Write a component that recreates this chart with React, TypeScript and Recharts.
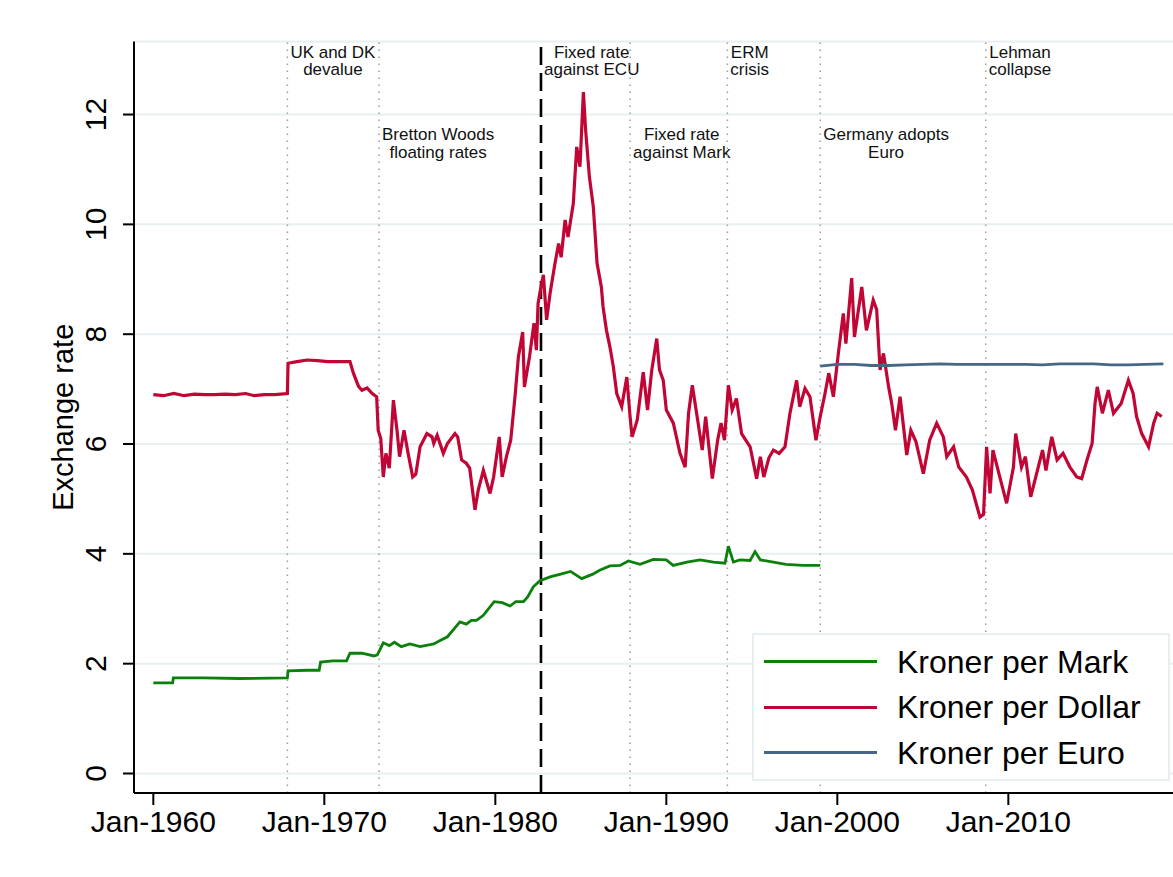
import {
  CartesianGrid,
  Legend,
  Line,
  LineChart,
  ReferenceLine,
  XAxis,
  YAxis,
} from "recharts";

const FONT = "'Liberation Sans', Arial, Helvetica, sans-serif";
const MARK_COLOUR = "#0b800b";
const DOLLAR_COLOUR = "#c10534";
const EURO_COLOUR = "#466684";
const GRID_COLOUR = "#e7eff1";

// [year, kroner]
const markPoints: [number, number][] = [
  [1960.0, 1.65], [1961.13, 1.65], [1961.17, 1.74], [1963.0, 1.74], [1965.0, 1.73],
  [1967.84, 1.74], [1967.88, 1.87], [1969.0, 1.88], [1969.7, 1.88], [1969.78, 2.03],
  [1970.5, 2.05], [1971.3, 2.05], [1971.5, 2.19], [1972.2, 2.19], [1972.9, 2.14],
  [1973.1, 2.16], [1973.45, 2.38], [1973.8, 2.33], [1974.1, 2.39], [1974.5, 2.31],
  [1975.0, 2.36], [1975.6, 2.31], [1976.4, 2.36], [1976.77, 2.42], [1977.2, 2.49],
  [1977.6, 2.64], [1977.93, 2.76], [1978.3, 2.72], [1978.6, 2.79], [1978.9, 2.79],
  [1979.3, 2.88], [1979.93, 3.13], [1980.4, 3.11], [1980.86, 3.05], [1981.2, 3.13],
  [1981.65, 3.13], [1981.9, 3.22], [1982.22, 3.4], [1982.61, 3.51], [1983.2, 3.58],
  [1983.82, 3.63], [1984.4, 3.68], [1985.05, 3.55], [1985.7, 3.63], [1986.1, 3.7],
  [1986.7, 3.78], [1987.3, 3.79], [1987.78, 3.87], [1988.46, 3.81], [1989.24, 3.9],
  [1990.0, 3.89], [1990.4, 3.79], [1991.2, 3.85], [1991.97, 3.89], [1992.75, 3.85],
  [1993.43, 3.83], [1993.63, 4.14], [1993.92, 3.85], [1994.3, 3.89], [1994.9, 3.88],
  [1995.19, 4.04], [1995.5, 3.89], [1996.26, 3.85], [1997.0, 3.81], [1998.0, 3.79],
  [1999.0, 3.79],
];

const dollarPoints: [number, number][] = [
  [1960.0, 6.9], [1960.6, 6.88], [1961.2, 6.92], [1961.8, 6.88], [1962.4, 6.91],
  [1963.0, 6.9], [1963.6, 6.9], [1964.2, 6.91], [1964.8, 6.9], [1965.4, 6.92],
  [1965.9, 6.88], [1966.5, 6.9], [1967.1, 6.9], [1967.84, 6.92], [1967.88, 7.47],
  [1968.4, 7.5], [1969.0, 7.53], [1969.6, 7.52], [1970.2, 7.5], [1970.8, 7.5],
  [1971.5, 7.5], [1971.7, 7.29], [1972.0, 7.05], [1972.2, 6.98], [1972.5, 7.02],
  [1972.8, 6.92], [1973.06, 6.86], [1973.15, 6.25], [1973.3, 6.1], [1973.45, 5.4],
  [1973.6, 5.83], [1973.8, 5.56], [1974.04, 6.8], [1974.25, 6.25], [1974.4, 5.77],
  [1974.66, 6.25], [1974.9, 5.83], [1975.17, 5.4], [1975.35, 5.45], [1975.6, 5.95],
  [1976.0, 6.19], [1976.3, 6.13], [1976.4, 6.01], [1976.6, 6.16], [1976.96, 5.83],
  [1977.2, 6.01], [1977.64, 6.19], [1977.8, 6.13], [1978.03, 5.71], [1978.3, 5.65],
  [1978.5, 5.56], [1978.81, 4.8], [1979.0, 5.16], [1979.3, 5.52], [1979.69, 5.1],
  [1979.9, 5.4], [1980.23, 6.13], [1980.4, 5.4], [1980.65, 5.77], [1980.9, 6.07],
  [1981.15, 6.86], [1981.35, 7.59], [1981.6, 8.04], [1981.7, 7.04], [1982.0, 7.59],
  [1982.26, 8.2], [1982.4, 7.71], [1982.5, 8.56], [1982.6, 8.74], [1982.81, 9.08],
  [1983.0, 8.26], [1983.2, 8.74], [1983.49, 9.29], [1983.7, 9.65], [1983.85, 9.4],
  [1984.08, 10.08], [1984.25, 9.77], [1984.56, 10.38], [1984.76, 11.41], [1984.95, 11.05],
  [1985.15, 12.41], [1985.28, 11.72], [1985.5, 10.87], [1985.73, 10.32], [1985.95, 9.29],
  [1986.2, 8.86], [1986.3, 8.5], [1986.5, 8.07], [1986.7, 7.77], [1986.9, 7.41],
  [1987.1, 6.92], [1987.39, 6.68], [1987.69, 7.22], [1987.88, 6.5], [1988.0, 6.13],
  [1988.3, 6.44], [1988.65, 7.31], [1988.9, 6.62], [1989.15, 7.35], [1989.44, 7.92],
  [1989.6, 7.35], [1989.82, 7.16], [1990.0, 6.62], [1990.41, 6.38], [1990.8, 5.83],
  [1991.1, 5.58], [1991.3, 6.56], [1991.52, 7.07], [1991.8, 6.5], [1992.1, 5.89],
  [1992.3, 6.5], [1992.69, 5.37], [1993.0, 6.07], [1993.2, 6.38], [1993.4, 6.07],
  [1993.63, 7.07], [1993.85, 6.62], [1994.1, 6.83], [1994.4, 6.19], [1994.9, 5.95],
  [1995.28, 5.37], [1995.5, 5.77], [1995.7, 5.4], [1996.0, 5.75], [1996.26, 5.89],
  [1996.6, 5.83], [1996.94, 5.95], [1997.23, 6.56], [1997.62, 7.16], [1997.8, 6.68],
  [1998.11, 7.01], [1998.4, 6.86], [1998.75, 6.07], [1999.0, 6.5], [1999.28, 6.92],
  [1999.5, 7.29], [1999.77, 6.86], [2000.06, 7.65], [2000.35, 8.38], [2000.5, 7.83],
  [2000.84, 9.02], [2001.0, 7.95], [2001.43, 8.86], [2001.7, 8.07], [2002.1, 8.62],
  [2002.3, 8.45], [2002.5, 7.35], [2002.7, 7.65], [2003.0, 7.04], [2003.18, 6.74],
  [2003.4, 6.25], [2003.67, 6.86], [2004.06, 5.8], [2004.3, 6.25], [2004.6, 6.04],
  [2005.03, 5.46], [2005.4, 6.07], [2005.81, 6.38], [2006.2, 6.13], [2006.4, 5.77],
  [2006.8, 5.95], [2007.1, 5.58], [2007.55, 5.4], [2007.9, 5.16], [2008.34, 4.67],
  [2008.55, 4.72], [2008.73, 5.95], [2008.93, 5.1], [2009.1, 5.89], [2009.5, 5.4],
  [2009.9, 4.92], [2010.3, 5.58], [2010.43, 6.19], [2010.77, 5.58], [2011.0, 5.77],
  [2011.31, 5.04], [2011.75, 5.58], [2012.0, 5.89], [2012.2, 5.52], [2012.54, 6.13],
  [2012.85, 5.71], [2013.2, 5.83], [2013.6, 5.58], [2014.0, 5.4], [2014.29, 5.37],
  [2014.6, 5.71], [2014.9, 6.01], [2015.07, 6.74], [2015.2, 7.04], [2015.5, 6.56],
  [2015.85, 6.98], [2016.15, 6.56], [2016.6, 6.74], [2017.02, 7.16], [2017.3, 6.92],
  [2017.5, 6.5], [2017.8, 6.19], [2018.2, 5.95], [2018.5, 6.38], [2018.7, 6.56],
  [2018.97, 6.5],
];

const euroPoints: [number, number][] = [
  [1999.0, 7.42], [2000.0, 7.45], [2001.0, 7.45], [2002.0, 7.43], [2003.0, 7.43],
  [2004.0, 7.44], [2005.0, 7.45], [2006.0, 7.46], [2007.0, 7.45], [2008.0, 7.45],
  [2009.0, 7.45], [2010.0, 7.45], [2011.0, 7.45], [2012.0, 7.44], [2013.0, 7.46],
  [2014.0, 7.46], [2015.0, 7.46], [2016.0, 7.44], [2017.0, 7.44], [2018.0, 7.45],
  [2019.07, 7.46],
];

const seriesNames = ["Kroner per Mark", "Kroner per Dollar", "Kroner per Euro"];
const xTicks = [1960, 1970, 1980, 1990, 2000, 2010];
const yTicks = [0, 2, 4, 6, 8, 10, 12];

const eventYears = [1967.84, 1973.2, 1982.67, 1987.88, 1993.57, 1999.0, 2008.68];
const eventNotes = [
  ["UK and DK", "devalue"],
  ["Bretton Woods", "floating rates"],
  ["Fixed rate", "against ECU"],
  ["Fixed rate", "against Mark"],
  ["ERM", "crisis"],
  ["Germany adopts", "Euro"],
  ["Lehman", "collapse"],
];
const ECU_YEAR = 1982.67;

const toRows = (pts: [number, number][]) => pts.map(([year, v]) => ({ year, v }));

const NOTE_SIZE = 17;
let measureCtx: CanvasRenderingContext2D | null = null;
function textWidth(s: string): number {
  if (!measureCtx) {
    measureCtx = document.createElement("canvas").getContext("2d");
  }
  if (!measureCtx) return s.length * NOTE_SIZE * 0.55;
  measureCtx.font = `${NOTE_SIZE}px ${FONT}`;
  return measureCtx.measureText(s).width;
}

function noteLabel(lines: string[], upper: boolean) {
  return (props: any) => {
    const vb = props.viewBox ?? {};
    const w = Math.max(...lines.map(textWidth));
    const cx = vb.x + 3 + w / 2;
    const base = upper ? 57.5 : 140;
    return (
      <g>
        {lines.map((t, i) => (
          <text
            key={t}
            x={cx}
            y={base + i * 17.5}
            textAnchor="middle"
            fontSize={NOTE_SIZE}
            fill="#111"
            fontFamily={FONT}
          >
            {t}
          </text>
        ))}
      </g>
    );
  };
}

function XTick({ x, y, payload }: any) {
  return (
    <text x={x} y={y + 27} textAnchor="middle" fontSize={30} fill="#000">
      Jan-{payload.value}
    </text>
  );
}

function YTick({ x, y, payload }: any) {
  const bx = x - 16.5;
  return (
    <text
      x={bx}
      y={y}
      textAnchor="middle"
      fontSize={30}
      fill="#000"
      transform={`rotate(-90 ${bx} ${y})`}
    >
      {payload.value}
    </text>
  );
}

function YTitle(props: any) {
  const vb = props.viewBox ?? { y: 0, height: 0 };
  const cy = vb.y + vb.height / 2;
  return (
    <text x={73} y={cy} textAnchor="middle" fontSize={29} fill="#000" transform={`rotate(-90 73 ${cy})`}>
      Exchange rate
    </text>
  );
}

function LegendBox({ payload }: any) {
  const items = [...(payload ?? [])].sort(
    (a: any, b: any) => seriesNames.indexOf(a.value) - seriesNames.indexOf(b.value),
  );
  return (
    <div style={{ position: "relative", width: "100%", height: "100%" }}>
      {items.map((entry: any, i: number) => {
        const cy = 26.7 + i * 45.5;
        return (
          <div key={entry.value}>
            <div
              style={{
                position: "absolute",
                left: 10,
                top: cy - 1.5,
                width: 113,
                height: 3,
                background: entry.color,
              }}
            />
            <div
              style={{
                position: "absolute",
                left: 143,
                top: cy - 16,
                fontSize: 32,
                lineHeight: "32px",
                whiteSpace: "nowrap",
                color: "#000",
              }}
            >
              {entry.value}
            </div>
          </div>
        );
      })}
    </div>
  );
}

export default function App() {
  return (
    <div
      style={{
        position: "absolute",
        left: 0,
        top: 0,
        width: 1173,
        height: 877,
        background: "#fff",
        fontFamily: FONT,
      }}
    >
      <LineChart width={1173} height={877} margin={{ top: 41.5, right: 0, bottom: 0, left: 0 }}>
        <CartesianGrid vertical={false} stroke={GRID_COLOUR} strokeWidth={2} />
        <XAxis
          type="number"
          dataKey="year"
          domain={[1958.87, 2019.63]}
          allowDataOverflow
          ticks={xTicks}
          height={84}
          tickSize={12}
          tickMargin={0}
          tick={<XTick />}
          axisLine={{ stroke: "#000", strokeWidth: 2 }}
          tickLine={{ stroke: "#000", strokeWidth: 2 }}
        />
        <YAxis
          type="number"
          domain={[-0.355, 13.33]}
          allowDataOverflow
          ticks={yTicks}
          width={134}
          tickSize={11}
          tickMargin={0}
          tick={<YTick />}
          axisLine={{ stroke: "#000", strokeWidth: 2 }}
          tickLine={{ stroke: "#000", strokeWidth: 2 }}
          label={{ content: YTitle }}
        />
        {eventYears.map((yr, i) => (
          <ReferenceLine
            key={yr}
            x={yr}
            stroke={yr === ECU_YEAR ? "#000" : "#9c9c9c"}
            strokeWidth={yr === ECU_YEAR ? 2.6 : 1.5}
            strokeDasharray={yr === ECU_YEAR ? "18 8" : "1.5 5.5"}
            label={noteLabel(eventNotes[i], i % 2 === 0)}
          />
        ))}
        <Line
          data={toRows(markPoints)}
          dataKey="v"
          name={seriesNames[0]}
          type="linear"
          stroke={MARK_COLOUR}
          strokeWidth={2.8}
          dot={false}
          activeDot={false}
          isAnimationActive={false}
        />
        <Line
          data={toRows(dollarPoints)}
          dataKey="v"
          name={seriesNames[1]}
          type="linear"
          stroke={DOLLAR_COLOUR}
          strokeWidth={3.2}
          dot={false}
          activeDot={false}
          isAnimationActive={false}
        />
        <Line
          data={toRows(euroPoints)}
          dataKey="v"
          name={seriesNames[2]}
          type="linear"
          stroke={EURO_COLOUR}
          strokeWidth={2.8}
          dot={false}
          activeDot={false}
          isAnimationActive={false}
        />
        <Legend
          layout="vertical"
          align="center"
          verticalAlign="middle"
          content={<LegendBox />}
          wrapperStyle={{
            left: 752,
            top: 633,
            width: 418,
            height: 148,
            boxSizing: "border-box",
            border: `2px solid ${GRID_COLOUR}`,
            background: "#fff",
          }}
        />
      </LineChart>
    </div>
  );
}
